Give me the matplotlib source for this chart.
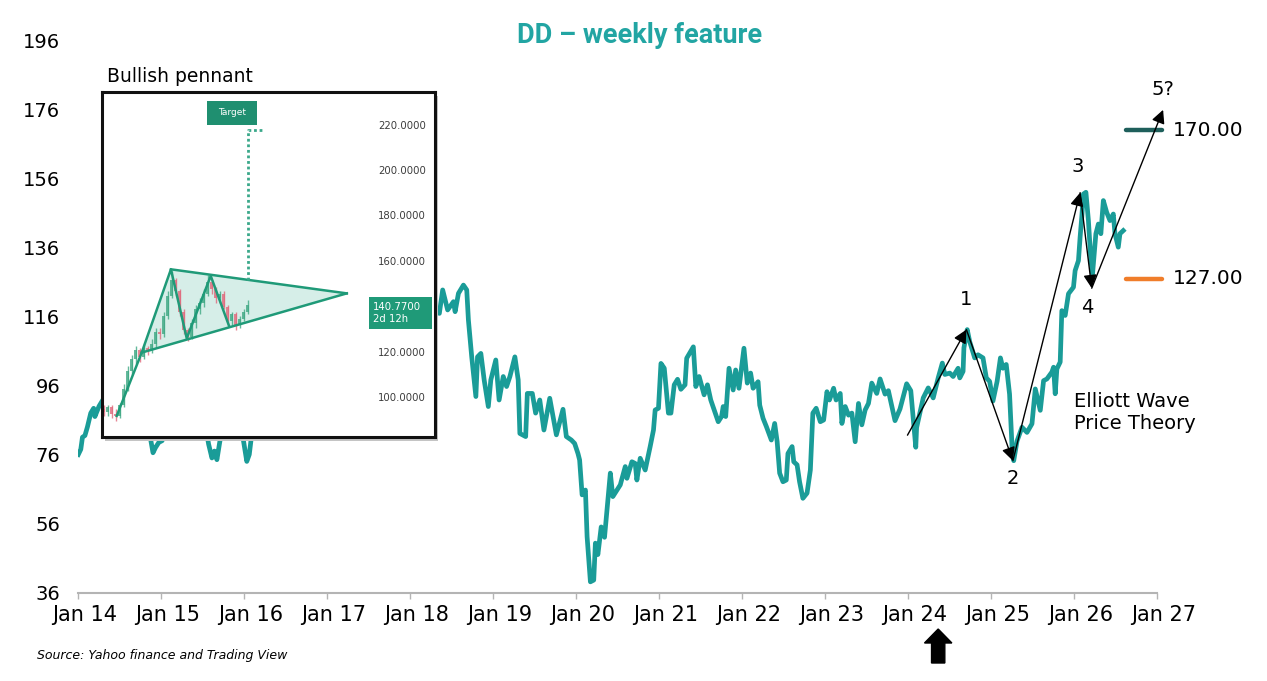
import matplotlib
matplotlib.use("Agg")
import matplotlib.pyplot as plt
from matplotlib.patches import Rectangle, Polygon, FancyArrow
from matplotlib.transforms import ScaledTranslation, blended_transform_factory

# ---------------- data ----------------
years = [2014.00, 2014.03, 2014.05, 2014.08, 2014.11, 2014.15, 2014.185, 2014.20,
         2014.25, 2014.30, 2014.36, 2014.42, 2014.48, 2014.55, 2014.62, 2014.68, 2014.74,
         2014.80, 2014.86, 2014.90, 2014.93, 2014.97, 2015.01, 2015.05, 2015.10, 2015.16,
         2015.22, 2015.28, 2015.34, 2015.40, 2015.46, 2015.52, 2015.57, 2015.61, 2015.64,
         2015.67, 2015.70, 2015.75, 2015.82, 2015.88, 2015.94, 2015.99, 2016.03, 2016.06,
         2016.10, 2016.16, 2016.24, 2016.32, 2016.40, 2016.48, 2016.56, 2016.64, 2016.72,
         2016.80, 2016.88, 2016.96, 2017.04, 2017.12, 2017.20, 2017.28, 2017.36, 2017.44,
         2017.52, 2017.60, 2017.68, 2017.76, 2017.84, 2017.92, 2018.00, 2018.06, 2018.12,
         2018.18, 2018.24, 2018.30, 2018.35,
         2018.39, 2018.45, 2018.52, 2018.54, 2018.58, 2018.64, 2018.68, 2018.70, 2018.74,
         2018.79, 2018.81, 2018.85, 2018.89, 2018.94, 2018.97, 2019.03, 2019.07, 2019.12,
         2019.16, 2019.20, 2019.26, 2019.30, 2019.32, 2019.39, 2019.41, 2019.47, 2019.51,
         2019.56, 2019.61, 2019.68, 2019.76, 2019.84, 2019.88, 2019.94, 2019.98, 2020.02,
         2020.04, 2020.07, 2020.11, 2020.13, 2020.17, 2020.21, 2020.23, 2020.26, 2020.30,
         2020.34, 2020.37,
         2020.41, 2020.44, 2020.53, 2020.59, 2020.61, 2020.67, 2020.71, 2020.73, 2020.77,
         2020.83, 2020.89, 2020.93, 2020.95, 2020.99, 2021.02, 2021.06, 2021.11, 2021.14,
         2021.18, 2021.22, 2021.26, 2021.31, 2021.33, 2021.41, 2021.44, 2021.48, 2021.54,
         2021.58, 2021.62, 2021.71, 2021.75, 2021.77, 2021.80, 2021.84, 2021.89, 2021.92,
         2021.96, 2022.02, 2022.06, 2022.10, 2022.13, 2022.19, 2022.21, 2022.25, 2022.29,
         2022.35, 2022.39, 2022.42, 2022.45, 2022.49, 2022.53, 2022.55, 2022.60, 2022.62,
         2022.66, 2022.69, 2022.73, 2022.78, 2022.82, 2022.85, 2022.89, 2022.94, 2022.98,
         2023.02, 2023.05, 2023.10, 2023.13, 2023.18, 2023.20, 2023.24, 2023.28, 2023.32,
         2023.36, 2023.40, 2023.44, 2023.48, 2023.52, 2023.56, 2023.62, 2023.66, 2023.72,
         2023.76, 2023.84, 2023.90, 2023.98, 2024.03, 2024.09, 2024.10, 2024.18, 2024.24,
         2024.30, 2024.36, 2024.41, 2024.44, 2024.50, 2024.54, 2024.60, 2024.62, 2024.66,
         2024.67, 2024.71, 2024.74, 2024.80, 2024.84, 2024.90, 2024.94, 2024.98, 2025.02,
         2025.07, 2025.11, 2025.14, 2025.18, 2025.22, 2025.25, 2025.27, 2025.31, 2025.37,
         2025.43, 2025.49, 2025.53, 2025.59, 2025.63, 2025.67, 2025.73, 2025.75, 2025.77,
         2025.79, 2025.83, 2025.85, 2025.89, 2025.93, 2025.99, 2026.01, 2026.05, 2026.07,
         2026.09, 2026.11, 2026.14, 2026.17, 2026.20, 2026.22, 2026.26, 2026.29, 2026.32,
         2026.35, 2026.39, 2026.43, 2026.47, 2026.49, 2026.53, 2026.55, 2026.59]

prices = [76.0, 77.5, 81.0, 81.5, 84.0, 88.0, 89.4, 87.0,
          90, 92, 95, 93, 96, 94, 91, 93, 88,
          85, 82, 76.5, 78, 79.5, 80, 86, 92, 96,
          99, 97, 100, 96, 92, 86, 79, 75, 77,
          74.5, 79, 86, 90, 94, 88, 80, 74, 76,
          84, 88, 92, 95, 93, 98, 101, 99, 103,
          106, 104, 108, 110, 114, 112, 116, 118, 115,
          119, 121, 118, 123, 126, 128, 131, 127, 124,
          120, 122, 118, 116.9,
          123.7, 117.9, 120.3, 117.4, 122.7, 125.1, 123.7, 115.0, 104.3,
          92.8, 104.3, 105.3, 97.6, 89.9, 97.6, 103.4, 91.8, 98.6,
          95.7, 98.6, 104.3, 97.6, 82.1, 81.2, 93.7, 93.7, 88.0,
          91.8, 83.1, 92.3, 81.7, 89.1, 81.2, 80.2, 79.2, 76.3,
          74.4, 64.3, 65.7, 52.2, 39.1, 39.6, 50.3, 47.0, 55.0,
          52.0, 59.9,
          70.6, 63.8, 67.2, 72.5, 69.1, 73.9, 73.4, 68.6, 74.9,
          71.5, 78.3, 83.1, 88.9, 89.4, 102.4, 101.0, 88.0, 88.0,
          96.2, 97.8, 94.9, 96.2, 103.9, 107.2, 95.7, 98.6, 93.3,
          96.2, 91.8, 85.5, 87.0, 89.9, 87.0, 101.0, 94.7, 100.5,
          95.2, 106.8, 96.7, 99.6, 95.2, 97.1, 90.3, 86.5, 84.1,
          80.2, 85.0, 79.7, 70.6, 68.1, 68.6, 76.3, 78.3, 73.9,
          73.0, 68.1, 63.3, 64.8, 71.5, 88.0, 89.4, 85.5, 86.0,
          94.2, 91.8, 95.2, 91.8, 93.7, 85.0, 89.9, 87.4, 88.0,
          79.7, 90.8, 84.6, 88.9, 90.8, 96.7, 93.7, 97.9, 93.5,
          94.5, 85.8, 89.2, 96.5, 94.5, 78.1, 83.8, 92.4, 95.3,
          92.4, 98.2, 102.5, 99.2, 99.6, 98.6, 101.0, 98.2, 100.1,
          106.9, 112.2, 108.7, 104.0, 104.9, 104.0, 98.2, 97.2, 91.5,
          97.2, 104.0, 101.0, 102.1, 93.5, 78.1, 74.2, 79.9, 83.9,
          82.4, 84.9, 95.0, 88.8, 97.4, 97.9, 99.9, 101.3, 93.6,
          100.8, 102.8, 117.7, 116.3, 122.6, 124.5, 129.3, 132.2, 139.0,
          144.8, 151.5, 152.0, 143.8, 132.2, 128.4, 140.0, 142.8, 140.0,
          149.6, 146.2, 143.8, 145.7, 140.0, 136.1, 140.0, 140.9]

y_ticks = [36, 56, 76, 96, 116, 136, 156, 176, 196]
x_ticks = [2014, 2015, 2016, 2017, 2018, 2019, 2020, 2021, 2022, 2023, 2024, 2025, 2026, 2027]
x_labels = ["Jan 14", "Jan 15", "Jan 16", "Jan 17", "Jan 18", "Jan 19", "Jan 20",
            "Jan 21", "Jan 22", "Jan 23", "Jan 24", "Jan 25", "Jan 26", "Jan 27"]

# Elliott wave path
wave_x = [2023.99, 2024.70, 2025.26, 2026.07, 2026.21, 2027.07]
wave_y = [81.6, 112.2, 74.2, 151.9, 124.2, 175.9]
wave_labels = ["1", "2", "3", "4", "5?"]
wave_label_x = [2024.70, 2025.26, 2026.04, 2026.16, 2027.07]
wave_label_y = [120.8, 69.0, 159.6, 118.6, 181.7]

# price levels
level_values = [170.0, 127.0]
level_labels = ["170.00", "127.00"]
level_x = [2026.62, 2027.06]

marker_year = 2024.36  # black arrow under the axis

# inset (bullish pennant) candles
c_open = [95, 94, 96, 93, 92, 97, 104, 112, 117, 121, 118, 122, 121, 124, 129, 128, 136, 145, 152,
          147, 138, 130, 127, 133, 139, 142, 146, 151, 148, 144, 146, 140, 134, 137, 132, 135, 138]
c_close = [94, 96, 93, 92, 97, 104, 112, 117, 121, 118, 122, 121, 124, 129, 128, 136, 145, 152, 147,
           138, 130, 127, 133, 139, 142, 146, 151, 148, 144, 146, 140, 134, 137, 132, 135, 138, 141]
c_high = [97, 97, 97, 95, 98, 106, 114, 119, 123, 122, 124, 123, 126, 131, 131, 138, 147, 156, 153,
          148, 139, 131, 135, 141, 144, 148, 154, 152, 149, 147, 147, 141, 138, 138, 136, 139, 143]
c_low = [92, 92, 91, 90, 91, 96, 103, 110, 115, 116, 117, 119, 120, 122, 126, 127, 135, 144, 145,
         136, 128, 125, 126, 131, 137, 140, 145, 146, 142, 142, 139, 132, 132, 130, 131, 134, 137]
zig_x = [3.25, 9.5, 16.8, 20.75, 26.75, 31.4]
zig_y = [92.1, 120.0, 156.7, 126.3, 153.8, 131.4]
apex = (60.75, 146.1)
target_x = 36.0
target_from = 152.1
target_to = 218.1
inset_price_ticks = [220, 200, 180, 160, 120, 100]
last_price = "140.7700"

# ---------------- figure ----------------
W, H = 1267, 681
fig = plt.figure(figsize=(W / 100, H / 100), dpi=100)
fig.patch.set_facecolor("white")

LINE = "#1a9c98"
ax = fig.add_axes([78.3 / W, 1 - 592.5 / H, (1157.3 - 78.3) / W, (592.5 - 40.5) / H])
ax.set_xlim(2014, 2027)
ax.set_ylim(36, 196)
ax.plot(years, prices, color=LINE, lw=3.4, solid_joinstyle="round", zorder=2)

for s in ["top", "right", "left"]:
    ax.spines[s].set_visible(False)
ax.spines["bottom"].set_color("#b4b4b4")
ax.spines["bottom"].set_linewidth(1.5)
ax.set_yticks(y_ticks)
ax.set_yticklabels([str(v) for v in y_ticks])
ax.tick_params(axis="y", length=0, pad=13, labelsize=14, labelcolor="black")
ax.set_xticks(x_ticks)
ax.set_xticklabels(x_labels)
ax.tick_params(axis="x", direction="out", length=4.3, width=1, color="#b4b4b4",
               pad=5, labelsize=15, labelcolor="black")
for lab in ax.get_xticklabels():
    lab.set_transform(lab.get_transform() + ScaledTranslation(0.06, 0, fig.dpi_scale_trans))

# Elliott wave arrows
for i in range(len(wave_x) - 1):
    ax.annotate("", xy=(wave_x[i + 1], wave_y[i + 1]), xytext=(wave_x[i], wave_y[i]),
                arrowprops=dict(arrowstyle="-|>", color="black", lw=1.0,
                                mutation_scale=20, shrinkA=0, shrinkB=0),
                annotation_clip=False, zorder=4)
for t, xx, yy in zip(wave_labels, wave_label_x, wave_label_y):
    ax.text(xx, yy, t, ha="center", va="center", fontsize=14, color="black",
            clip_on=False, zorder=5)

# price levels
level_colors = ["#1e5f5b", "#f07d2a"]
for v, lab, c in zip(level_values, level_labels, level_colors):
    ax.plot(level_x, [v, v], color=c, lw=3.2, solid_capstyle="round", clip_on=False, zorder=3)
    ax.text(2027.19, v, lab, ha="left", va="center", fontsize=14.5, color="black", clip_on=False)

ax.text(2026.0, 88.2, "Elliott Wave\nPrice Theory", ha="left", va="center", fontsize=14,
        color="black", linespacing=1.2)

# black arrow under the Jan 24 tick
btr = blended_transform_factory(ax.transData, fig.transFigure)
arr = FancyArrow(marker_year, 1 - 663 / H, 0, 34 / H, width=0.16, head_width=0.33,
                 head_length=14 / H, length_includes_head=True, color="black",
                 transform=btr, clip_on=False)
ax.add_artist(arr)

# title and source
fig.text(0.5045, 1 - 42.7 / H, "DD – weekly feature", ha="center", va="baseline",
         fontsize=19.5, fontweight="bold", family=["Roboto", "DejaVu Sans"], color="#22a5a3")
fig.text(37 / W, 1 - 655 / H, "Source: Yahoo finance and Trading View", ha="left", va="center",
         fontsize=9, style="italic", family=["Liberation Sans Narrow", "DejaVu Sans"], color="black")
fig.text(107 / W, 1 - 76 / H, "Bullish pennant", ha="left", va="center", fontsize=13.5,
         color="black")

# ---------------- inset ----------------
ix0, iy0, iw, ih = 101.7, 437, 333.3, 345
shadow = Rectangle(((ix0 + 3) / W, 1 - (iy0 + 4) / H), iw / W, ih / H,
                   transform=fig.transFigure, facecolor="#c4c4c4", edgecolor="none", zorder=2)
fig.add_artist(shadow)
ins = fig.add_axes([ix0 / W, 1 - iy0 / H, iw / W, ih / H], zorder=3)
ins.set_facecolor("white")
ins.set_xlim(-0.5, 82.8)
ins.set_ylim(82.8, 234.85)
ins.set_xticks([])
ins.set_yticks([])
for s in ins.spines.values():
    s.set_color("#111111")
    s.set_linewidth(2.2)

GREEN = "#1f9a78"
# pennant fill
ins.add_patch(Polygon([(zig_x[1], zig_y[1]), (zig_x[2], zig_y[2]), apex], closed=True,
                      facecolor="#d6eee8", edgecolor="none", zorder=1))
# candles
for i in range(len(c_open)):
    up = c_close[i] >= c_open[i]
    col = "#3fa883" if up else "#e0697c"
    ins.vlines(i, c_low[i], c_high[i], color=col, lw=1.0, alpha=0.8, zorder=2)
    lo, hi = min(c_open[i], c_close[i]), max(c_open[i], c_close[i])
    ins.bar(i, max(hi - lo, 1.0), bottom=lo, width=0.8, color=col, alpha=0.8, zorder=2)
# pattern lines
ins.plot(zig_x, zig_y, color=GREEN, lw=1.8, zorder=3)
ins.plot([zig_x[2], apex[0]], [zig_y[2], apex[1]], color=GREEN, lw=1.8, zorder=3)
ins.plot([zig_x[1], apex[0]], [zig_y[1], apex[1]], color=GREEN, lw=1.8, zorder=3)
ins.plot([target_x, target_x, target_x + 3.5], [target_from, target_to, target_to],
         color="#3aa88a", lw=2.0, ls=(0, (1, 1)), zorder=3)
# target box
ins.add_patch(Rectangle((25.75, 220.3), 12.65, 10.7, facecolor="#1f8f70", edgecolor="none", zorder=4))
ins.text(32.1, 225.7, "Target", ha="center", va="center", fontsize=6.5, color="white", zorder=5)
# price labels
for v in inset_price_ticks:
    ins.text(68.6, v, f"{v:.4f}", ha="left", va="center", fontsize=7.3, color="#3c3c3c")
ins.add_patch(Rectangle((66.4, 130.3), 15.6, 14.1, facecolor="#1f9a78", edgecolor="none", zorder=4))
ins.text(67.3, 137.4, last_price + "\n2d 12h", ha="left", va="center", fontsize=7.3,
         color="white", linespacing=1.25, zorder=5)

fig.savefig("out.png", dpi=100)
